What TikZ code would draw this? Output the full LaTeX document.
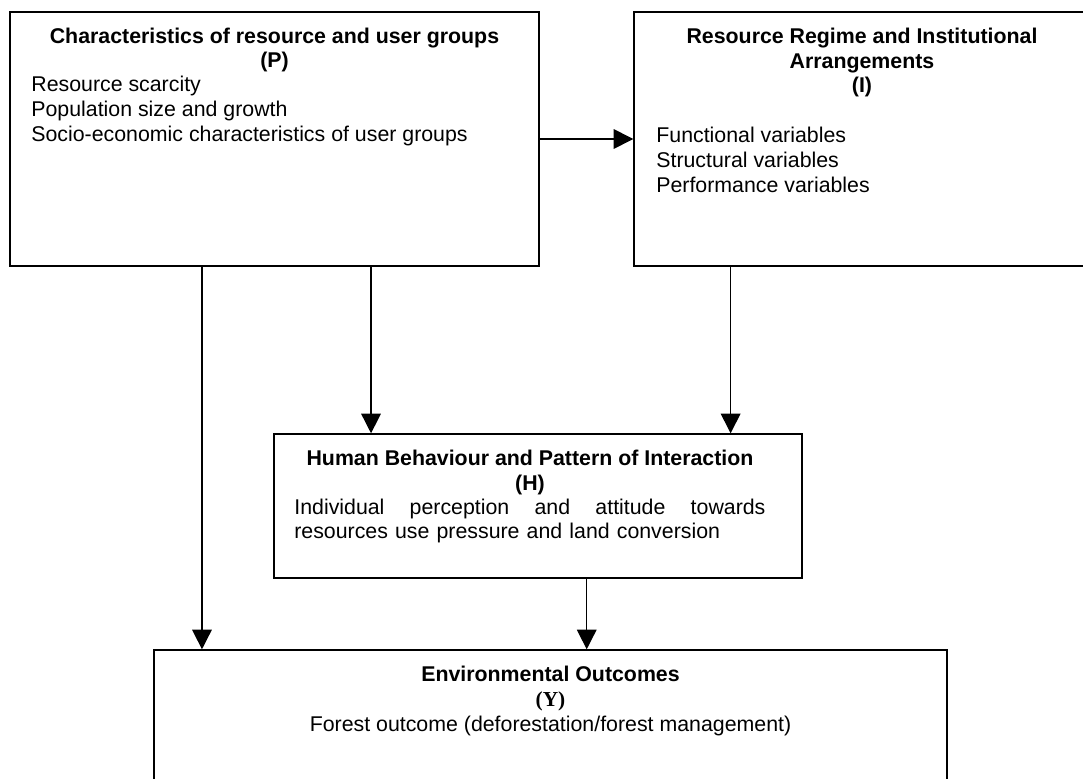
\documentclass[tikz,border=0pt]{standalone}
\usepackage{fontspec}
\setmainfont{Liberation Sans}
\newfontfamily\timesfont{Liberation Serif}
\usetikzlibrary{positioning,arrows.meta}
\tikzstyle{box} = [rectangle, draw=black, line width=0.8pt, inner sep=0pt]
\tikzstyle{head} = [align=center, inner sep=0pt, font=\fontsize{12pt}{14pt}\selectfont\bfseries]
\tikzstyle{items} = [align=left, inner sep=0pt, anchor=west, font=\fontsize{12pt}{14pt}\selectfont]
\tikzstyle{arrow} = [line width=0.8pt, -{Triangle[width=11pt,length=11pt]}]

\begin{document}
\begin{tikzpicture}[x=0.5625pt,y=-0.5625pt]
\useasboundingbox (0,0) rectangle (1083,778);
\clip (0,0) rectangle (1083,778);
% boxes
\node (P) [box, minimum width=297.6pt, minimum height=142.9pt] at (274.5,139) {};
\node (I) [box, minimum width=256.5pt, minimum height=142.9pt] at (862,139) {};
\node (H) [box, minimum width=297pt, minimum height=81pt] at (538,506) {};
\node (Y) [box, minimum width=446.1pt, minimum height=90pt] at (550.5,730) {};
% texts
\node (Phead) [head] at (274.5,50) {Characteristics of resource and user groups\\(P)};
\node (Pitems) [items] at (31,111) {Resource scarcity\\Population size and growth\\Socio-economic characteristics of user groups};
\node (Ihead) [head] at (862,62.5) {Resource Regime and Institutional\\Arrangements\\(I)};
\node (Iitems) [items] at (656,160) {Functional variables\\Structural variables\\Performance variables};
\node (Hhead) [head] at (530,472.5) {Human Behaviour and Pattern of Interaction\\(H)};
\node (Hitems) [items, text width=265pt] at (294,521) {Individual\hfill perception\hfill and\hfill attitude\hfill towards\\resources use pressure and land conversion};
\node (Ytext) [align=center, inner sep=0pt, font=\fontsize{12pt}{14pt}\selectfont] at (550.5,701) {\textbf{Environmental Outcomes}\\{\timesfont\bfseries (Y)}\\Forest outcome (deforestation/forest management)};
% arrows
\coordinate (p2y) at ([xshift=-40.8pt]P.south);
\coordinate (p2h) at ([xshift=54.3pt]P.south);
\coordinate (i2h) at ([xshift=-73.9pt]I.south);
\coordinate (h2y) at ([xshift=27.4pt]H.south);
\draw [arrow] (P.east) -- (I.west);
\draw [arrow] (p2h) -- (p2h |- H.north);
\draw [arrow] (i2h) -- (i2h |- H.north);
\draw [arrow] (p2y) -- (p2y |- Y.north);
\draw [arrow] (h2y) -- (h2y |- Y.north);
\end{tikzpicture}
\end{document}
